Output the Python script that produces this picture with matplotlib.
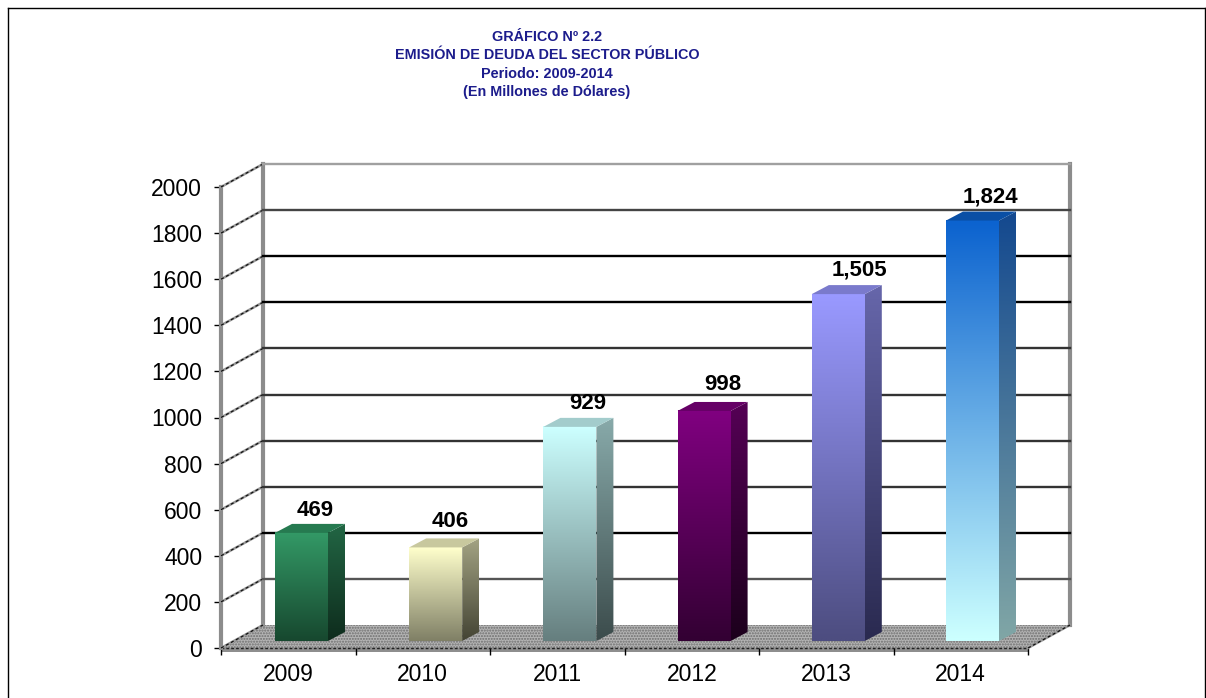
import numpy as np
import matplotlib
matplotlib.use("Agg")
import matplotlib.pyplot as plt
from matplotlib.colors import to_rgb
from matplotlib.lines import Line2D
from matplotlib.patches import Polygon

plt.rcParams['font.family'] = ['Liberation Sans', 'DejaVu Sans']

years = ["2009", "2010", "2011", "2012", "2013", "2014"]
values = [469, 406, 929, 998, 1505, 1824]
value_labels = ["469", "406", "929", "998", "1,505", "1,824"]
y_ticks = [0, 200, 400, 600, 800, 1000, 1200, 1400, 1600, 1800, 2000]
title_lines = ["GRÁFICO Nº 2.2", "EMISIÓN DE DEUDA DEL SECTOR PÚBLICO",
               "Periodo: 2009-2014", "(En Millones de Dólares)"]

# gradient colours per bar: front top, front bottom, side top, side bottom, cap
bar_colors = [
    ("#339966", "#17482f", "#226644", "#0e2c1d", "#267a50"),
    ("#ffffcc", "#808066", "#a3a383", "#444434", "#c8c89e"),
    ("#ccffff", "#667f7f", "#88aaaa", "#3c4c4c", "#a3cccc"),
    ("#800080", "#330033", "#550055", "#1c001c", "#660066"),
    ("#9999ff", "#4d4d80", "#6666aa", "#2a2a50", "#7a7acc"),
    ("#0c63cf", "#ccffff", "#14498f", "#80a6a6", "#0a4fa5"),
]
grid_colors = ["#555555", "#000000", "#333333", "#333333", "#333333", "#333333",
               "#000000", "#000000", "#444444", "#a0a0a0"]
label_nudge_x = [-1, 0, 3, 4, 7, 3]
label_nudge_y = [22, 26, 23, 26, 24, 24]

W, H = 1206, 698
# pixel box of the front plane
left, right, bottom, top = 221, 1028, 648, 187
px_x = (right - left) / 6
px_y = (bottom - top) / 2000
DX, DY = 42 / px_x, 23 / px_y        # wall depth
bar_x0 = 54 / px_x
bar_w = 53 / px_x
bar_base = 7 / px_y
bar_dx, bar_dy = 17 / px_x, 9 / px_y  # bar depth

fig = plt.figure(figsize=(W / 100, H / 100), dpi=100, facecolor="white")
ax = fig.add_axes([left / W, 1 - bottom / H, (right - left) / W, (bottom - top) / H])
for s in ax.spines.values():
    s.set_visible(False)
ax.patch.set_visible(False)


def gradient(c1, c2):
    a, b = np.array(to_rgb(c1)), np.array(to_rgb(c2))
    t = np.linspace(0, 1, 64)[:, None]
    return (a * (1 - t) + b * t)[:, None, :]


# floor
floor = Polygon([(0, 0), (DX, DY), (6 + DX, DY), (6, 0)], closed=True, facecolor="#b4b4b4",
                edgecolor="#6e6e6e", hatch="......", linewidth=0, zorder=1, clip_on=False)
ax.add_patch(floor)
ax.fill_between([0, 6], -18, 0, color="#8e8e8e", linewidth=0, zorder=1.5, clip_on=False)
ax.plot([0, 6], [0, 0], color="#222222", lw=1, ls=(0, (2, 1.5)), zorder=1.6, clip_on=False)

# walls
wall_kw = dict(color="#8c8c8c", lw=3, zorder=2, clip_on=False, solid_capstyle="projecting")
ax.plot([0, 0], [0, 2000], **wall_kw)
ax.plot([DX, DX], [DY, 2000 + DY], **wall_kw)
ax.plot([6 + DX, 6 + DX], [DY, 2000 + DY], **wall_kw)

# back wall grid lines
for v, c in zip(y_ticks[1:], grid_colors):
    ax.plot([DX, 6 + DX], [v + DY, v + DY], color=c, lw=1.7, zorder=2.5, clip_on=False)

# side wall diagonals
for v in y_ticks:
    ax.plot([0, DX], [v, v + DY], color="#9a9a9a", lw=1.8, zorder=2.2, clip_on=False)
    ax.plot([0, DX], [v, v + DY], color="#111111", lw=0.9, ls=(0, (2.5, 2)), zorder=2.3, clip_on=False)
ax.plot([6, 6 + DX], [0, DY], color="#9a9a9a", lw=1.8, zorder=2.2, clip_on=False)
ax.plot([6, 6 + DX], [0, DY], color="#111111", lw=0.9, ls=(0, (2.5, 2)), zorder=2.3, clip_on=False)

# bars
for i, (val, cols) in enumerate(zip(values, bar_colors)):
    x0 = i + bar_x0 - i * 0.3 / px_x
    x1 = x0 + bar_w
    y0 = bar_base
    y1 = bar_base + val

    ax.imshow(gradient(cols[0], cols[1]), extent=[x0, x1, y0, y1], aspect="auto",
              origin="upper", interpolation="bilinear", zorder=3)

    side = Polygon([(x1, y0), (x1 + bar_dx, y0 + bar_dy), (x1 + bar_dx, y1 + bar_dy), (x1, y1)],
                   closed=True, facecolor="none", edgecolor="none", zorder=3)
    ax.add_patch(side)
    im = ax.imshow(gradient(cols[2], cols[3]), extent=[x1, x1 + bar_dx, y0, y1 + bar_dy],
                   aspect="auto", origin="upper", interpolation="bilinear", zorder=3)
    im.set_clip_path(side)

    ax.add_patch(Polygon([(x0, y1), (x1, y1), (x1 + bar_dx, y1 + bar_dy), (x0 + bar_dx, y1 + bar_dy)],
                         closed=True, facecolor=cols[4], edgecolor="none", zorder=3))

    ax.annotate(value_labels[i], xy=(x0, y1), xytext=(41 + label_nudge_x[i], label_nudge_y[i]),
                textcoords="offset pixels", ha="center", va="center",
                fontsize=16, fontweight="bold", color="black", zorder=5)

# axes
ax.set_xlim(0, 6)
ax.set_ylim(0, 2000)
ax.set_yticks(y_ticks)
ax.tick_params(axis="y", length=5, width=1, pad=8.5, labelsize=16.5, color="black")
ax.set_xticks(range(7))
ax.set_xticklabels([])
ax.set_xticks(np.arange(6) + 0.5, labels=years, minor=True)
ax.tick_params(axis="x", which="major", length=5, width=1)
ax.tick_params(axis="x", which="minor", length=0, pad=11, labelsize=16.5)

# title
for k, line in enumerate(title_lines):
    fig.text(547 / W, 1 - (37 + k * 18.3) / H, line, ha="center", va="center",
             fontsize=10.4, fontweight="bold", color="#1c1c8c")

# sheet frame, open at the bottom
for xs, ys in [((8, 8), (698, 8)), ((8, 1205), (8, 8)), ((1205, 1205), (8, 698))]:
    fig.add_artist(Line2D([x / W for x in xs], [1 - y / H for y in ys], color="black", lw=1))

fig.savefig("out.png", dpi=100, facecolor="white")
